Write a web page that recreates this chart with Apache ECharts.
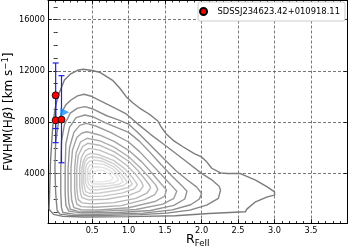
<!DOCTYPE html>
<html><head><meta charset="utf-8">
<script src="https://cdn.jsdelivr.net/npm/echarts@6/dist/echarts.min.js"></script>
<style>html,body{margin:0;padding:0;background:#fff}#c{width:349px;height:251px}</style>
</head><body><div id="c"></div>
<script>
// ---- data ----
const xTicks = [0.5, 1.0, 1.5, 2.0, 2.5, 3.0, 3.5];
const yTicks = [4000, 8000, 12000, 16000];
const objName = 'SDSSJ234623.42+010918.11';
const ptX = [0.0, 0.0, 0.08];
const ptY = [10100, 8150, 8200];
const errLo = [2600, 1750, 3370];
const errHi = [2520, 1750, 3430];
const blueX = [0.125];
const blueY = [8780];

const c1 = [[-0.09,1200],[-0.085,2000],[-0.07,5000],[-0.04,7650],[-0.01,9000],[0.03,10000],[0.12,11300],[0.2,11750],[0.3,12050],[0.38,12130],[0.5,12030],[0.6,11900],[0.7,11550],[0.78,11270],[0.88,10650],[0.97,9970],[1.06,9500],[1.15,9100],[1.29,8600],[1.4,8090],[1.45,7600],[1.52,7050],[1.61,6580],[1.75,6060],[1.9,5550],[2.0,5280],[2.07,4900],[2.14,4400],[2.26,4040],[2.35,3990],[2.53,3990],[2.58,3860],[2.74,3470],[2.9,2950],[3.0,2560],[3.0,2300],[2.9,2170],[2.74,1780],[2.62,1210],[2.6,1000],[2.1,870],[1.64,690],[1.0,620],[0.4,590],[0.1,640],[-0.03,800],[-0.09,1200]];
const c2 = [[0.02,1100],[0.0,2500],[-0.01,4400],[0.0,6500],[0.04,8000],[0.08,8750],[0.14,9350],[0.21,9730],[0.3,10050],[0.39,10180],[0.5,10000],[0.6,9710],[0.78,9190],[0.96,8670],[1.15,7750],[1.3,7050],[1.5,6200],[1.75,5100],[2.0,4000],[2.15,3450],[2.24,3000],[2.26,2700],[2.23,2050],[2.07,1520],[1.84,1130],[1.52,900],[1.16,780],[0.6,700],[0.2,720],[0.06,820],[0.02,1100]];
const c3 = [[0.08,1300],[0.07,2500],[0.07,4400],[0.08,6500],[0.12,7800],[0.2,8700],[0.3,9100],[0.4,9210],[0.5,9050],[0.7,8500],[0.85,8200],[1.0,7850],[1.15,7050],[1.3,6200],[1.5,5050],[1.65,4200],[1.8,3500],[1.93,2950],[2.0,2450],[1.97,2000],[1.85,1550],[1.6,1150],[1.2,900],[0.6,800],[0.25,820],[0.1,950],[0.08,1300]];
const c4 = [[0.14,1500],[0.13,2500],[0.13,4400],[0.14,6300],[0.19,7600],[0.28,8350],[0.4,8560],[0.52,8400],[0.7,7900],[1.0,7200],[1.15,6500],[1.3,5600],[1.45,4650],[1.6,3750],[1.72,3100],[1.8,2600],[1.77,2000],[1.62,1500],[1.3,1100],[0.8,930],[0.35,920],[0.18,1050],[0.14,1500]];
const c5 = [[0.18,1700],[0.17,2600],[0.17,4400],[0.19,6000],[0.25,7200],[0.33,7750],[0.42,7900],[0.55,7700],[0.75,7200],[1.0,6450],[1.15,5700],[1.3,4800],[1.45,3900],[1.58,3100],[1.66,2600],[1.62,2050],[1.47,1600],[1.1,1180],[0.6,1030],[0.3,1050],[0.2,1200],[0.18,1700]];
const c6 = [[0.22,1900],[0.21,2700],[0.21,4400],[0.23,5800],[0.29,6800],[0.36,7150],[0.43,7250],[0.6,7000],[0.8,6500],[1.0,5800],[1.18,4900],[1.33,3950],[1.45,3150],[1.52,2700],[1.49,2200],[1.36,1800],[1.0,1320],[0.6,1140],[0.35,1160],[0.25,1320],[0.22,1900]];
const c7 = [[0.27,2100],[0.26,2800],[0.26,4400],[0.28,5600],[0.34,6450],[0.43,6740],[0.6,6550],[0.8,6050],[1.0,5300],[1.15,4500],[1.28,3700],[1.37,3100],[1.4,2750],[1.36,2350],[1.22,1950],[0.9,1480],[0.55,1350],[0.35,1400],[0.29,1600],[0.27,2100]];
const c8 = [[0.3,2300],[0.29,2900],[0.29,4400],[0.31,5400],[0.37,6100],[0.44,6350],[0.6,6200],[0.8,5700],[1.0,4950],[1.13,4200],[1.23,3500],[1.29,3050],[1.3,2850],[1.25,2450],[1.1,2050],[0.8,1720],[0.5,1620],[0.36,1700],[0.31,1950],[0.3,2300]];
const c9 = [[0.34,2500],[0.33,3000],[0.33,4400],[0.35,5200],[0.4,5750],[0.46,5950],[0.6,5820],[0.8,5350],[0.97,4650],[1.1,3900],[1.18,3300],[1.2,2980],[1.15,2620],[1.0,2280],[0.7,1980],[0.45,1930],[0.36,2100],[0.34,2500]];
const c10 = [[0.37,2650],[0.36,3100],[0.36,4400],[0.38,5000],[0.42,5400],[0.48,5560],[0.6,5450],[0.8,5000],[0.95,4350],[1.05,3700],[1.1,3300],[1.12,3080],[1.07,2780],[0.92,2480],[0.65,2220],[0.45,2200],[0.39,2350],[0.37,2650]];
const c11 = [[0.4,2800],[0.385,3200],[0.385,4400],[0.4,4900],[0.44,5200],[0.5,5300],[0.62,5200],[0.8,4750],[0.93,4100],[1.01,3550],[1.05,3180],[1.0,2920],[0.85,2680],[0.6,2470],[0.46,2450],[0.41,2580],[0.4,2800]];
const c12 = [[0.43,2950],[0.41,3300],[0.41,4400],[0.43,4750],[0.47,4960],[0.52,5040],[0.64,4950],[0.8,4500],[0.9,3950],[0.96,3500],[0.98,3270],[0.93,3050],[0.78,2880],[0.58,2720],[0.47,2720],[0.43,2950]];
const c13 = [[0.46,3100],[0.44,3400],[0.44,4350],[0.47,4650],[0.54,4780],[0.66,4700],[0.78,4350],[0.86,3900],[0.91,3550],[0.92,3350],[0.87,3150],[0.72,3020],[0.55,2960],[0.48,2990],[0.46,3100]];
const c14 = [[0.49,3250],[0.47,3500],[0.47,4200],[0.5,4420],[0.56,4520],[0.66,4450],[0.76,4150],[0.83,3800],[0.86,3480],[0.8,3270],[0.65,3170],[0.53,3170],[0.49,3250]];
const c15 = [[0.52,3400],[0.51,3650],[0.52,4100],[0.57,4250],[0.66,4200],[0.74,3950],[0.79,3650],[0.75,3420],[0.62,3340],[0.54,3350],[0.52,3400]];

const contours = [c1,c2,c3,c4,c5,c6,c7,c8,c9,c10,c11,c12,c13,c14,c15];
const contourColors = ['#7b7b7b','#848484','#8c8c8c','#939393','#9b9b9b','#a3a3a3','#aeaeae','#b6b6b6','#bebebe','#c6c6c6','#cdcdcd','#d4d4d4','#dbdbdb','#e2e2e2','#e8e8e8'];

// ---- chart ----
const FONT = 'DejaVu Sans';
const X_MIN = -0.105, X_MAX = 4.0, Y_MIN = 125, Y_MAX = 17500;
const xMinor = []; for (let i = 0; i <= 40; i++) xMinor.push(+(i * 0.1).toFixed(1));
const yMinor = []; for (let i = 1; i <= 17; i++) yMinor.push(i * 1000);

function xAx(pos, custom, len, opts) {
  return Object.assign({
    type: 'value', gridIndex: 0, position: pos, min: X_MIN, max: X_MAX,
    axisLine: { show: false },
    axisTick: { show: true, inside: true, length: len, customValues: custom, lineStyle: { color: '#000', width: 0.8 } },
    axisLabel: { show: false }, splitLine: { show: false }
  }, opts || {});
}
function yAx(pos, custom, len, opts) {
  return Object.assign({
    type: 'value', gridIndex: 0, position: pos, min: Y_MIN, max: Y_MAX,
    axisLine: { show: false },
    axisTick: { show: true, inside: true, length: len, customValues: custom, lineStyle: { color: '#000', width: 0.8 } },
    axisLabel: { show: false }, splitLine: { show: false }
  }, opts || {});
}
const gridLine = { show: true, lineStyle: { type: [3, 2], color: '#555', width: 0.8 } };

const series = [];
contours.forEach((c, i) => series.push({
  type: 'line', data: c, xAxisIndex: 0, yAxisIndex: 0, symbol: 'none', showSymbol: false,
  lineStyle: { color: contourColors[i], width: 1.4 }, silent: true, z: 2
}));
series.push({
  type: 'custom', xAxisIndex: 0, yAxisIndex: 0, z: 3, silent: true,
  data: ptX.map((x, i) => [x, ptY[i], errLo[i], errHi[i]]),
  encode: { x: 0, y: 1 },
  renderItem: function (params, api) {
    const x = api.value(0), y = api.value(1), lo = api.value(2), hi = api.value(3);
    const t = api.coord([x, y + hi]), b = api.coord([x, y - lo]);
    const w = 3, st = { stroke: '#1f1fe0', lineWidth: 1.2 };
    return { type: 'group', children: [
      { type: 'line', shape: { x1: t[0], y1: t[1], x2: b[0], y2: b[1] }, style: st },
      { type: 'line', shape: { x1: t[0] - w, y1: t[1], x2: t[0] + w, y2: t[1] }, style: st },
      { type: 'line', shape: { x1: b[0] - w, y1: b[1], x2: b[0] + w, y2: b[1] }, style: st }
    ] };
  }
});
series.push({
  type: 'scatter', xAxisIndex: 0, yAxisIndex: 0, z: 4, silent: true,
  data: blueX.map((x, i) => [x, blueY[i]]), symbol: 'triangle', symbolRotate: -90, symbolSize: 9,
  itemStyle: { color: '#1e90ff' }
});
series.push({
  name: objName, type: 'scatter', xAxisIndex: 0, yAxisIndex: 0, z: 5,
  data: ptX.map((x, i) => [x, ptY[i]]), symbol: 'circle', symbolSize: 7,
  itemStyle: { color: '#ff0000', borderColor: '#000', borderWidth: 0.8, opacity: 1 }
});

const option = {
  animation: false,
  backgroundColor: '#fff',
  grid: { left: 48, right: 1.5, top: 0.5, bottom: 28, containLabel: false, outerBoundsMode: 'none' },
  legend: {
    data: [objName], right: 4, top: 2, orient: 'horizontal',
    itemWidth: 18, itemHeight: 7, icon: 'circle',
    padding: [5, 5, 5, 1], borderColor: '#cccccc', borderWidth: 1, borderRadius: 2,
    backgroundColor: '#ffffff',
    textStyle: { fontFamily: FONT, fontSize: 8.4, color: '#000' }
  },
  xAxis: [
    xAx('bottom', xTicks, 4, {
      axisLine: { show: true, onZero: false, lineStyle: { color: '#000', width: 1 } },
      axisLabel: { show: true, customValues: xTicks, formatter: v => v.toFixed(1), fontFamily: FONT, fontSize: 8.2, color: '#000', margin: 4 },
      splitLine: gridLine,
      name: '{r|R}{s|FeII}', nameLocation: 'middle', nameGap: 8, nameMoveOverlap: false,
      nameTextStyle: { rich: {
        r: { fontFamily: FONT, fontSize: 12.5, color: '#000' },
        s: { fontFamily: FONT, fontSize: 8.5, color: '#000', padding: [8, 0, 0, 0] }
      } }
    }),
    xAx('bottom', xMinor, 2),
    xAx('top', xTicks, 4, { axisLine: { show: true, onZero: false, lineStyle: { color: '#000', width: 1 } } }),
    xAx('top', xMinor, 2)
  ],
  yAxis: [
    yAx('left', yTicks, 4, {
      axisLine: { show: true, onZero: false, lineStyle: { color: '#000', width: 1 } },
      axisLabel: { show: true, customValues: yTicks, formatter: v => String(Math.round(v)), fontFamily: FONT, fontSize: 8.2, color: '#000', margin: 3 },
      splitLine: gridLine,
      name: '{a|FWHM(H}{b|β}{a|) [km s}{c|−1}{a|]}', nameLocation: 'middle', nameGap: 31, nameRotate: 90, nameMoveOverlap: false,
      nameTextStyle: { rich: {
        a: { fontFamily: FONT, fontSize: 12, color: '#000' },
        b: { fontFamily: FONT, fontSize: 12, fontStyle: 'italic', color: '#000' },
        c: { fontFamily: FONT, fontSize: 8.5, color: '#000', padding: [0, 0, 7, 0] }
      } }
    }),
    yAx('left', yMinor, 2),
    yAx('right', yTicks, 4, { axisLine: { show: true, onZero: false, lineStyle: { color: '#000', width: 1 } } }),
    yAx('right', yMinor, 2)
  ],
  series: series
};
const chart = echarts.init(document.getElementById('c'), null, { renderer: 'canvas' });
chart.setOption(option);
</script>
</body></html>
